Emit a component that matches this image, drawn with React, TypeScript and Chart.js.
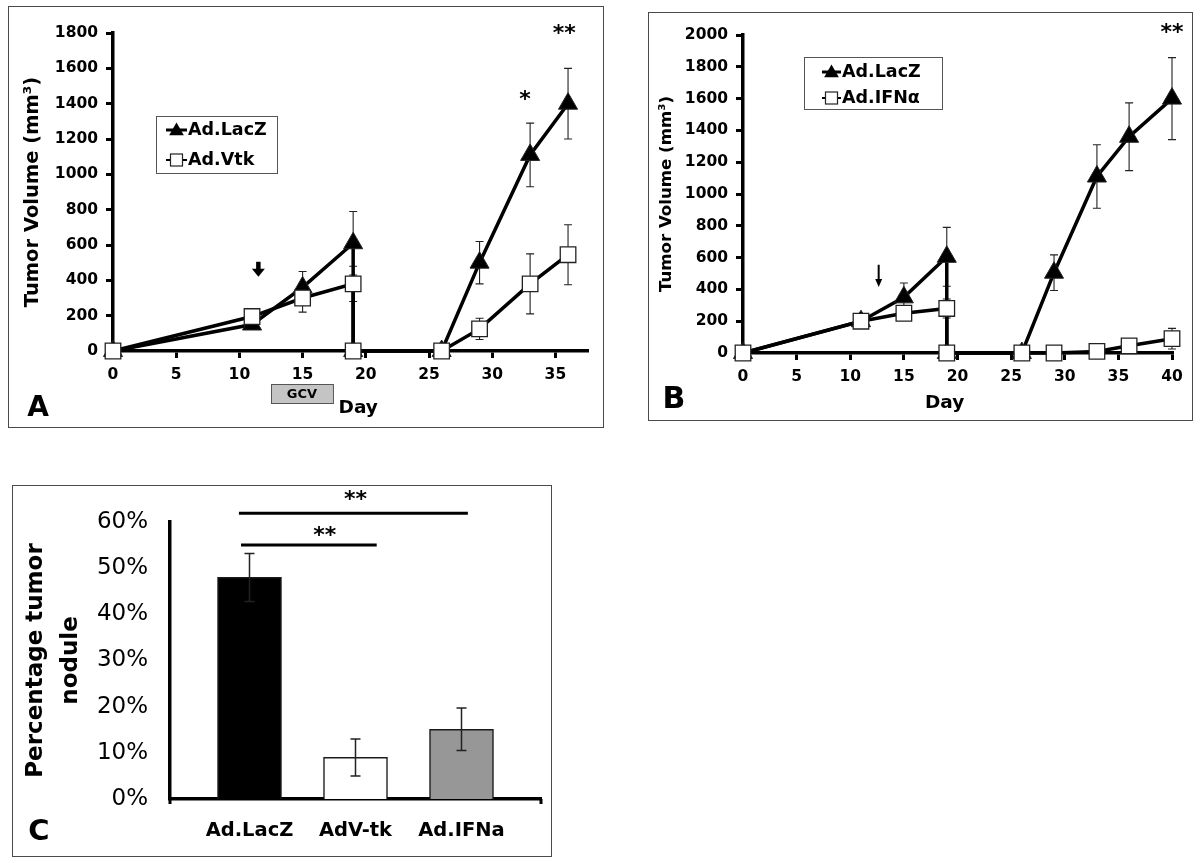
import React, { useEffect, useRef } from 'react';
import { Chart, registerables } from 'chart.js';

Chart.register(...registerables);

const SANS = '"DejaVu Sans", "Liberation Sans", sans-serif';

// ---------- Panel A data ----------
const daysA = [0, 11, 15, 19, 19, 26, 29, 33, 36];
const lacZA = [0, 150, 360, 610, 0, 0, 500, 1110, 1400];
const lacZAErr = [0, 10, 90, 180, 0, 0, 120, 180, 200];
const vtkA = [0, 195, 300, 380, 0, 0, 125, 380, 545];
const vtkAErr = [0, 10, 80, 100, 0, 0, 60, 170, 170];
const yRangeA = { min: 0, max: 1800, step: 200 };
const xRangeA = { min: 0, max: 37.5, step: 5 };
const xTickValsA = [0, 5, 10, 15, 20, 25, 30, 35];

// ---------- Panel B data ----------
const daysB = [0, 11, 15, 19, 19, 26, 29, 33, 36, 40];
const lacZB = [0, 200, 350, 605, 0, 0, 505, 1110, 1360, 1600];
const lacZBErr = [0, 10, 90, 185, 0, 0, 112, 200, 213, 258];
const ifnB = [0, 200, 250, 280, 0, 0, 0, 10, 45, 90];
const ifnBErr = [0, 10, 30, 60, 0, 0, 0, 10, 20, 65];
const yRangeB = { min: 0, max: 2000, step: 200 };
const xRangeB = { min: 0, max: 40, step: 5 };
const xTickValsB = [0, 5, 10, 15, 20, 25, 30, 35, 40];

// ---------- Panel C data ----------
const catsC = ['Ad.LacZ', 'AdV-tk', 'Ad.IFNa'];
const pctC = [0.48, 0.09, 0.151];
const pctCErr = [0.052, 0.04, 0.046];
const colorsC = ['#000000', '#ffffff', '#979797'];

type Ctx = CanvasRenderingContext2D;

function txt(ctx: Ctx, s: string, x: number, y: number, size: number, weight = 'bold', align: CanvasTextAlign = 'center', baseline: CanvasTextBaseline = 'middle') {
  ctx.save();
  ctx.fillStyle = '#000';
  ctx.font = `${weight} ${size}px ${SANS}`;
  ctx.textAlign = align;
  ctx.textBaseline = baseline;
  ctx.fillText(s, x, y);
  ctx.restore();
}

function triangle(ctx: Ctx, x: number, y: number, r: number) {
  ctx.beginPath();
  for (let i = 0; i < 3; i++) {
    const a = (i * 2 * Math.PI) / 3;
    const px = x + Math.sin(a) * r;
    const py = y - Math.cos(a) * r;
    if (i === 0) ctx.moveTo(px, py);
    else ctx.lineTo(px, py);
  }
  ctx.closePath();
  ctx.fillStyle = '#000';
  ctx.fill();
}

function square(ctx: Ctx, x: number, y: number, s: number) {
  ctx.fillStyle = '#fff';
  ctx.strokeStyle = '#222';
  ctx.lineWidth = 1.2;
  ctx.fillRect(x - s / 2, y - s / 2, s, s);
  ctx.strokeRect(x - s / 2, y - s / 2, s, s);
}

function drawLegend(ctx: Ctx, x: number, y: number, w: number, h: number, labels: string[], sx0: number, sx1: number, rowY: number[], font: number) {
  ctx.save();
  ctx.fillStyle = '#fff';
  ctx.fillRect(x, y, w, h);
  ctx.strokeStyle = '#555';
  ctx.lineWidth = 1;
  ctx.strokeRect(x + 0.5, y + 0.5, w, h);
  labels.forEach((lab, i) => {
    const cy = rowY[i];
    ctx.strokeStyle = '#000';
    ctx.lineWidth = i === 0 ? 3 : 2;
    ctx.beginPath();
    ctx.moveTo(sx0, cy);
    ctx.lineTo(sx1, cy);
    ctx.stroke();
    const mx = (sx0 + sx1) / 2;
    if (i === 0) triangle(ctx, mx, cy + 1, 8.5);
    else square(ctx, mx, cy, 12);
    txt(ctx, lab, sx1 + 1, cy, font, 'bold', 'left', 'middle');
  });
  ctx.restore();
}

function drawErr(chart: any, xs: number[], ys: number[], errs: number[], cap: number, lw = 1.1) {
  const ctx: Ctx = chart.ctx;
  const xS = chart.scales.x;
  const yS = chart.scales.y;
  ctx.save();
  ctx.strokeStyle = '#222';
  ctx.lineWidth = lw;
  xs.forEach((d, i) => {
    const e = errs[i];
    if (!e) return;
    const px = xS.getPixelForValue(d);
    const t = yS.getPixelForValue(ys[i] + e);
    const b = yS.getPixelForValue(Math.max(ys[i] - e, 0));
    ctx.beginPath();
    ctx.moveTo(px, t);
    ctx.lineTo(px, b);
    ctx.moveTo(px - cap, t);
    ctx.lineTo(px + cap, t);
    ctx.moveTo(px - cap, b);
    ctx.lineTo(px + cap, b);
    ctx.stroke();
  });
  ctx.restore();
}

function downArrow(chart: any, day: number, vTop: number, vBot: number, shaft: number, headW: number, headH: number) {
  const ctx: Ctx = chart.ctx;
  const x = chart.scales.x.getPixelForValue(day);
  const t = chart.scales.y.getPixelForValue(vTop);
  const b = chart.scales.y.getPixelForValue(vBot);
  ctx.save();
  ctx.strokeStyle = '#000';
  ctx.fillStyle = '#000';
  ctx.lineWidth = shaft;
  ctx.beginPath();
  ctx.moveTo(x, t);
  ctx.lineTo(x, b - headH + 1);
  ctx.stroke();
  ctx.beginPath();
  ctx.moveTo(x - headW / 2, b - headH);
  ctx.lineTo(x + headW / 2, b - headH);
  ctx.lineTo(x, b);
  ctx.closePath();
  ctx.fill();
  ctx.restore();
}

function lineScales(xr: any, xTickVals: number[], yr: any, yWidth: number, xHeight: number, tickSize: number, titleSize: number, titlePad: number) {
  const tickFont = { family: SANS, weight: 'bold' as const, size: tickSize };
  return {
    x: {
      type: 'linear' as const,
      min: xr.min,
      max: xr.max,
      ticks: { stepSize: xr.step, font: tickFont, color: '#000', padding: 8, maxRotation: 0, autoSkip: false, callback: (v: any) => String(v) },
      afterBuildTicks: (s: any) => {
        s.ticks = xTickVals.map((v) => ({ value: v }));
      },
      afterFit: (s: any) => {
        s.height = xHeight;
        s.paddingLeft = 0;
        s.paddingRight = 0;
      },
      grid: { drawOnChartArea: false, drawTicks: true, tickLength: 7, lineWidth: 3, color: '#000' },
      border: { display: true, color: '#000', width: 3.5 },
    },
    y: {
      type: 'linear' as const,
      min: yr.min,
      max: yr.max,
      ticks: { stepSize: yr.step, font: tickFont, color: '#000', padding: 8, callback: (v: any) => String(v) },
      afterFit: (s: any) => {
        s.width = yWidth;
        s.paddingTop = 0;
        s.paddingBottom = 0;
      },
      grid: { drawOnChartArea: false, drawTicks: true, tickLength: 7, lineWidth: 3, color: '#000' },
      border: { display: true, color: '#000', width: 3.5 },
      title: {
        display: true,
        text: 'Tumor Volume (mm³)',
        color: '#000',
        font: { family: SANS, weight: 'bold' as const, size: titleSize },
        padding: { top: titlePad, bottom: 0 },
      },
    },
  };
}

function lineDataset(label: string, xs: number[], ys: number[], style: 'triangle' | 'rect', order: number) {
  return {
    label,
    data: xs.map((d, i) => ({ x: d, y: ys[i] })),
    borderColor: '#000',
    borderWidth: 3.5,
    pointStyle: style,
    pointRadius: 11,
    pointHoverRadius: 11,
    pointBackgroundColor: style === 'triangle' ? '#000' : '#fff',
    pointBorderColor: '#222',
    pointBorderWidth: style === 'triangle' ? 1 : 1.3,
    tension: 0,
    clip: false as const,
    order,
  };
}

function makeA() {
  return {
    type: 'line' as const,
    data: {
      datasets: [
        lineDataset('Ad.LacZ', daysA, lacZA, 'triangle', 1),
        lineDataset('Ad.Vtk', daysA, vtkA, 'rect', 0),
      ],
    },
    options: {
      responsive: false,
      animation: false as const,
      layout: { padding: { left: 0, right: 16, top: 26, bottom: 0 } },
      plugins: { legend: { display: false }, tooltip: { enabled: false } },
      scales: lineScales(xRangeA, xTickValsA, yRangeA, 104, 76, 15.5, 19.5, 12),
    },
    plugins: [
      {
        id: 'extrasA',
        beforeDatasetsDraw(chart: any) {
          drawErr(chart, daysA, lacZA, lacZAErr, 4);
          drawErr(chart, daysA, vtkA, vtkAErr, 4);
        },
        afterDraw(chart: any) {
          const ctx: Ctx = chart.ctx;
          const xS = chart.scales.x;
          const yS = chart.scales.y;
          const bottom = chart.chartArea.bottom;
          drawLegend(ctx, 147, 109, 121, 57, ['Ad.LacZ', 'Ad.Vtk'], 157, 178, [123, 153], 17.5);
          downArrow(chart, 11.5, 505, 420, 4.5, 13, 8);
          txt(ctx, '*', xS.getPixelForValue(32.6), yS.getPixelForValue(1420), 22, 'bold');
          txt(ctx, '**', xS.getPixelForValue(35.7), yS.getPixelForValue(1790), 22, 'bold');
          // GCV bar
          const g0 = xS.getPixelForValue(12.5);
          const g1 = xS.getPixelForValue(17.4);
          ctx.save();
          ctx.fillStyle = '#c4c4c4';
          ctx.fillRect(g0, bottom + 33, g1 - g0, 19);
          ctx.strokeStyle = '#555';
          ctx.lineWidth = 1;
          ctx.strokeRect(g0 + 0.5, bottom + 33.5, g1 - g0, 19);
          ctx.restore();
          txt(ctx, 'GCV', (g0 + g1) / 2, bottom + 44, 13, 'bold');
          txt(ctx, 'Day', xS.getPixelForValue(19.4), bottom + 57, 18.5, 'bold');
          txt(ctx, 'A', 29, 402, 28, 'bold');
        },
      },
    ],
  };
}

function makeB() {
  return {
    type: 'line' as const,
    data: {
      datasets: [
        lineDataset('Ad.LacZ', daysB, lacZB, 'triangle', 1),
        lineDataset('Ad.IFNα', daysB, ifnB, 'rect', 0),
      ],
    },
    options: {
      responsive: false,
      animation: false as const,
      layout: { padding: { left: 0, right: 20, top: 22, bottom: 0 } },
      plugins: { legend: { display: false }, tooltip: { enabled: false } },
      scales: lineScales(xRangeB, xTickValsB, yRangeB, 94, 67, 15.5, 16.6, 8),
    },
    plugins: [
      {
        id: 'extrasB',
        beforeDatasetsDraw(chart: any) {
          drawErr(chart, daysB, lacZB, lacZBErr, 4);
          drawErr(chart, daysB, ifnB, ifnBErr, 4);
        },
        afterDraw(chart: any) {
          const ctx: Ctx = chart.ctx;
          const xS = chart.scales.x;
          const yS = chart.scales.y;
          const bottom = chart.chartArea.bottom;
          drawLegend(ctx, 155, 44, 138, 52, ['Ad.LacZ', 'Ad.IFNα'], 173, 192, [59, 85], 17.5);
          downArrow(chart, 12.65, 555, 415, 2, 7, 8);
          txt(ctx, '**', xS.getPixelForValue(40), yS.getPixelForValue(2010), 22, 'bold');
          txt(ctx, 'Day', xS.getPixelForValue(18.8), bottom + 50, 18.5, 'bold');
          txt(ctx, 'B', 25, 387, 30, 'bold');
        },
      },
    ],
  };
}

function makeC() {
  return {
    type: 'bar' as const,
    data: {
      datasets: [
        {
          data: catsC.map((c, i) => ({ x: i + 1, y: pctC[i] })),
          backgroundColor: colorsC,
          borderColor: '#1a1a1a',
          borderWidth: 1.5,
          barThickness: 64,
        },
      ],
    },
    options: {
      responsive: false,
      animation: false as const,
      layout: { padding: { left: 0, right: 10, top: 36, bottom: 0 } },
      plugins: { legend: { display: false }, tooltip: { enabled: false } },
      scales: {
        x: {
          type: 'linear' as const,
          min: 0.25,
          max: 3.75,
          offset: false,
          bounds: 'data' as const,
          afterBuildTicks: (s: any) => {
            s.ticks = catsC.map((c, i) => ({ value: i + 1 }));
          },
          afterFit: (s: any) => {
            s.height = 57;
            s.paddingLeft = 0;
            s.paddingRight = 0;
          },
          ticks: {
            callback: (v: any) => catsC[Math.round(v) - 1] ?? '',
            font: { family: SANS, weight: 'bold' as const, size: 19.5 },
            color: '#000',
            padding: 20,
            maxRotation: 0,
            autoSkip: false,
          },
          grid: { drawOnChartArea: false, drawTicks: false, display: false, offset: false },
          border: { display: true, color: '#000', width: 3.5 },
        },
        y: {
          type: 'linear' as const,
          min: 0,
          max: 0.6,
          ticks: {
            stepSize: 0.1,
            callback: (v: any) => `${Math.round(v * 100)}%`,
            font: { family: SANS, size: 23 },
            color: '#000',
            padding: 22,
          },
          afterFit: (s: any) => {
            s.width = 157;
            s.paddingTop = 0;
            s.paddingBottom = 0;
          },
          grid: { drawOnChartArea: false, drawTicks: false, display: false },
          border: { display: true, color: '#000', width: 3.5 },
          title: {
            display: true,
            text: ['Percentage tumor', 'nodule'],
            color: '#000',
            font: { family: SANS, weight: 'bold' as const, size: 23, lineHeight: 1.5 },
            padding: { top: 6, bottom: 0 },
          },
        },
      },
    },
    plugins: [
      {
        id: 'extrasC',
        afterDraw(chart: any) {
          const ctx: Ctx = chart.ctx;
          const xS = chart.scales.x;
          const yS = chart.scales.y;
          const { left, right, bottom } = chart.chartArea;
          drawErr(chart, catsC.map((c, i) => i + 1), pctC, pctCErr, 5, 1.5);
          ctx.save();
          ctx.strokeStyle = '#000';
          ctx.lineWidth = 3;
          ctx.beginPath();
          ctx.moveTo(left, bottom);
          ctx.lineTo(left, bottom + 5);
          ctx.moveTo(right, bottom);
          ctx.lineTo(right, bottom + 5);
          ctx.stroke();
          // significance bars
          ctx.lineWidth = 3;
          ctx.beginPath();
          ctx.moveTo(xS.getPixelForValue(0.9), yS.getPixelForValue(0.619));
          ctx.lineTo(xS.getPixelForValue(3.06), yS.getPixelForValue(0.619));
          ctx.moveTo(xS.getPixelForValue(0.92), yS.getPixelForValue(0.55));
          ctx.lineTo(xS.getPixelForValue(2.2), yS.getPixelForValue(0.55));
          ctx.stroke();
          ctx.restore();
          txt(ctx, '**', xS.getPixelForValue(2.0), yS.getPixelForValue(0.648), 22, 'bold');
          txt(ctx, '**', xS.getPixelForValue(1.71), yS.getPixelForValue(0.569), 22, 'bold');
          txt(ctx, 'C', 26, 346, 29, 'bold');
        },
      },
    ],
  };
}

type Box = { x: number; y: number; w: number; h: number };

function Panel({ box, make }: { box: Box; make: () => any }) {
  const ref = useRef<HTMLCanvasElement>(null);
  useEffect(() => {
    const chart = new Chart(ref.current as HTMLCanvasElement, make());
    return () => chart.destroy();
  }, []);
  return (
    <div
      style={{
        position: 'absolute',
        left: box.x,
        top: box.y,
        width: box.w,
        height: box.h,
        border: '1px solid #4a4a4a',
        boxSizing: 'border-box',
        background: '#fff',
      }}
    >
      <canvas ref={ref} width={box.w - 2} height={box.h - 2} style={{ display: 'block' }} />
    </div>
  );
}

export default function App() {
  return (
    <div style={{ position: 'absolute', left: 0, top: 0, width: 1200, height: 863, background: '#fff' }}>
      <Panel box={{ x: 8, y: 6, w: 596, h: 422 }} make={makeA} />
      <Panel box={{ x: 648, y: 12, w: 545, h: 409 }} make={makeB} />
      <Panel box={{ x: 12, y: 485, w: 540, h: 372 }} make={makeC} />
    </div>
  );
}
